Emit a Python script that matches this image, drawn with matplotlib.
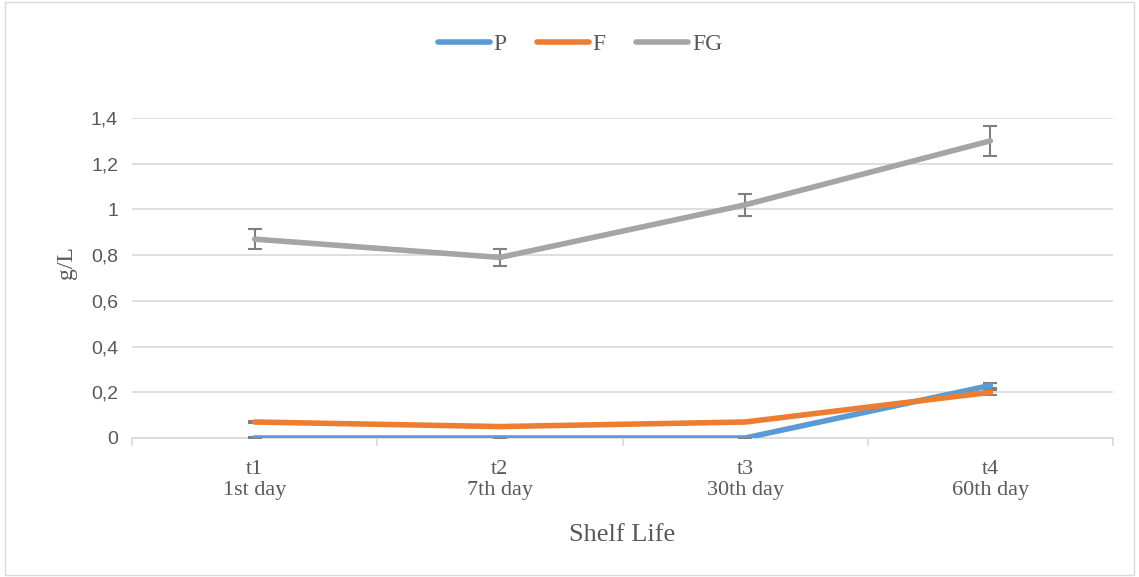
import numpy as np
import matplotlib.pyplot as plt
from matplotlib.lines import Line2D
from matplotlib.ticker import FuncFormatter

categories = ['t1\n1st day', 't2\n7th day', 't3\n30th day', 't4\n60th day']
p_vals = [0.0, 0.0, 0.0, 0.23]
p_err = [0.003, 0.003, 0.003, 0.012]
f_vals = [0.07, 0.05, 0.07, 0.20]
f_err = [0.003, 0.003, 0.003, 0.012]
fg_vals = [0.87, 0.79, 1.02, 1.30]
fg_err = [0.045, 0.037, 0.048, 0.065]

series = [('P', p_vals, p_err, '#5b9bd5'),
          ('F', f_vals, f_err, '#ed7d31'),
          ('FG', fg_vals, fg_err, '#a5a5a5')]

fig = plt.figure(figsize=(11.39, 5.77), dpi=100)
ax = fig.add_axes([132 / 1139, 1 - 438 / 577, (1113 - 132) / 1139, (438 - 118) / 577])
x = np.arange(len(categories))

handles = []
for name, vals, err, col in series:
    ax.errorbar(x, vals, yerr=err, color=col, lw=4, solid_capstyle='round',
                ecolor='#7f7f7f', elinewidth=1.5, capsize=5, capthick=1.5, zorder=3)
    handles.append(Line2D([], [], color=col, lw=4, solid_capstyle='round', label=name))

ax.set_xlim(-0.5, 3.5)
ax.set_ylim(0, 1.4)
ax.set_yticks(np.arange(0, 1.41, 0.2))
ax.yaxis.set_major_formatter(FuncFormatter(lambda v, _: ('%g' % round(v, 1)).replace('.', ',')))
ax.grid(axis='y', color='#d9d9d9', lw=1.2)
ax.set_axisbelow(True)
for s in ['top', 'right', 'left']:
    ax.spines[s].set_visible(False)
ax.spines['bottom'].set_color('#d9d9d9')
ax.spines['bottom'].set_linewidth(1.2)

ax.set_xticks(x)
ax.set_xticklabels(categories, fontfamily='Liberation Serif', fontsize=16, color='#595959', linespacing=1.15)
ax.set_xticks(np.arange(-0.5, 3.6, 1), minor=True)
ax.tick_params(axis='x', which='major', length=0, pad=16)
ax.tick_params(axis='x', which='minor', length=6, color='#d9d9d9', width=1.2)
ax.tick_params(axis='y', length=0, labelsize=14, labelcolor='#595959', pad=10)
for lab in ax.get_yticklabels():
    lab.set_fontfamily('Liberation Sans')

ax.set_xlabel('Shelf Life', fontfamily='Liberation Serif', fontsize=19, color='#595959', labelpad=17)
ax.set_ylabel('g/L', fontfamily='Liberation Serif', fontsize=17, color='#595959')
ax.yaxis.set_label_coords(-55 / 981, (438 - 263) / 320)

leg = ax.legend(handles=handles, loc='center', bbox_to_anchor=((580 - 132) / 981, 1 + (118 - 44) / 320),
                ncol=3, frameon=False, prop={'family': 'Liberation Serif', 'size': 17},
                handlelength=2.2, handletextpad=0.15, columnspacing=1.3)
for t in leg.get_texts():
    t.set_color('#595959')

fig.patches.append(plt.Rectangle((0.004, 0.004), 0.992, 0.992, transform=fig.transFigure,
                                 fill=False, edgecolor='#d9d9d9', lw=1))

fig.savefig('out.png', dpi=100)
